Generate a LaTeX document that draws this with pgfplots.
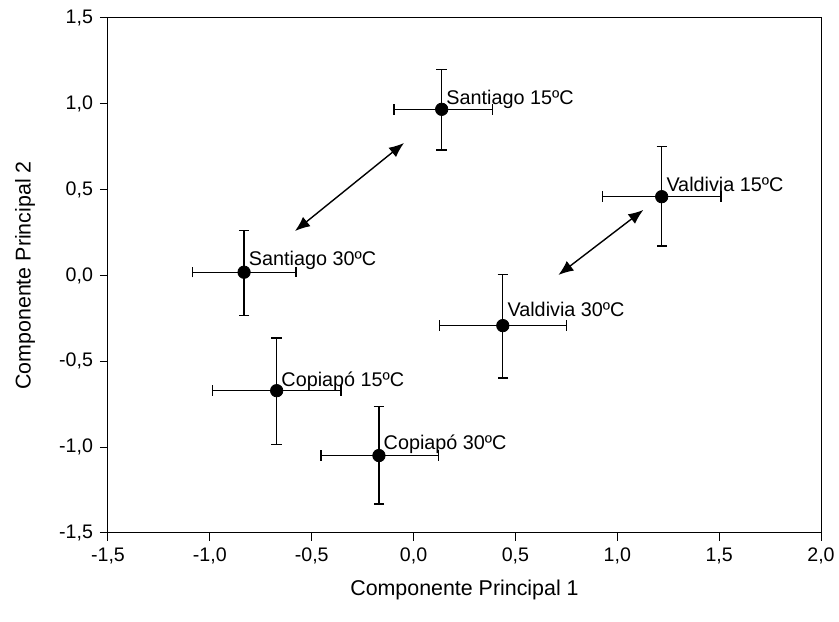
\documentclass[border=0pt]{standalone}
\usepackage{fontspec}
\setmainfont{Liberation Sans}
\usepackage{pgfplots}
\usepackage{pgfplotstable}
\pgfplotsset{compat=1.18}
\usetikzlibrary{arrows.meta}

\pgfplotstableread{
x      y      exm    exp    eym    eyp    dy   lab
0.138  0.968  0.234  0.251  0.237  0.233  2.2  {Santiago 15ºC}
1.218  0.459  0.289  0.291  0.287  0.291  2.5  {Valdivia 15ºC}
-0.832 0.019  0.254  0.255  0.253  0.242  3.5  {Santiago 30ºC}
0.438  -0.292 0.312  0.314  0.306  0.299  4.5  {Valdivia 30ºC}
-0.672 -0.671 0.314  0.316  0.312  0.307  2.0  {Copiapó 15ºC}
-0.170 -1.049 0.284  0.292  0.283  0.285  2.8  {Copiapó 30ºC}
}\pcadata

\begin{document}
\begin{tikzpicture}
\begin{axis}[
  name=ax,
  scale only axis,
  width=356.5pt, height=257.5pt,
  xmin=-1.5, xmax=2.0, ymin=-1.5, ymax=1.5,
  xtick={-1.5,-1,...,2.0},
  ytick={-1.5,-1,...,1.5},
  tick align=outside,
  xtick pos=bottom, ytick pos=left,
  major tick length=4pt,
  axis line style={line width=0.5pt},
  every tick/.style={black, line width=0.5pt},
  tick label style={font=\fontsize{9.8}{11}\selectfont},
  /pgf/number format/.cd, use comma, fixed, fixed zerofill, precision=1, assume math mode=true,
  /pgfplots/.cd,
  xlabel={Componente Principal 1},
  ylabel={Componente Principal 2},
  label style={font=\fontsize{10.7}{13}\selectfont},
  xlabel style={at={(axis description cs:0.5,-0.1107)}, anchor=center},
  ylabel style={at={(axis description cs:-0.1164,0.5)}, anchor=center},
]
\addplot[
  only marks, mark=*, mark size=3.1pt, black,
  error bars/.cd,
    x dir=both, x explicit, y dir=both, y explicit,
    error bar style={line width=0.65pt, black},
    error mark=|,
    error mark options={black, mark size=2.6pt, line width=0.65pt},
] table[x=x, y=y, x error plus=exp, x error minus=exm, y error plus=eyp, y error minus=eym] {\pcadata};

\addplot[
  only marks, mark=none,
  visualization depends on={\thisrow{dy} \as \dy},
  nodes near coords,
  point meta=explicit symbolic,
  every node near coord/.append style={anchor=base west, inner sep=0pt, xshift=2.2pt, yshift=\dy pt, font=\fontsize{9.9}{12}\selectfont, black},
] table[x=x, y=y, meta=lab] {\pcadata};

\addplot[black, line width=0.7pt, {Latex[length=7.5pt,width=6pt]}-{Latex[length=7.5pt,width=6pt]}]
  coordinates {(-0.582,0.259) (-0.047,0.772)};
\addplot[black, line width=0.7pt, {Latex[length=7.5pt,width=6pt]}-{Latex[length=7.5pt,width=6pt]}]
  coordinates {(0.711,0.003) (1.128,0.382)};
\end{axis}
\pgfresetboundingbox
\path[use as bounding box] ([xshift=-54pt,yshift=-44.5pt]ax.south west) rectangle ([xshift=9pt,yshift=9pt]ax.north east);
\end{tikzpicture}
\end{document}
